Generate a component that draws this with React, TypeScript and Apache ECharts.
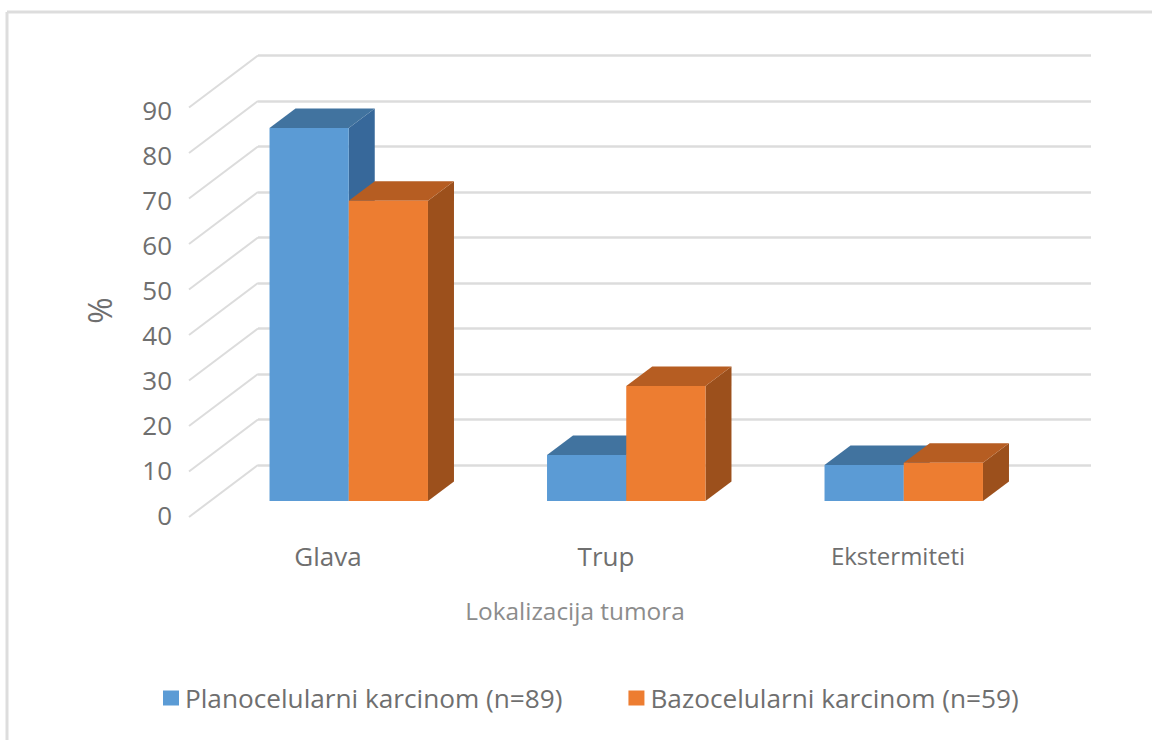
import React, { useEffect, useRef } from "react";
import * as echarts from "echarts";

const categories = ["Glava", "Trup", "Ekstermiteti"];
const planocelularni = [82, 10.1, 7.9];
const bazocelularni = [66, 25.3, 8.4];
const seriesNames = ["Planocelularni karcinom (n=89)", "Bazocelularni karcinom (n=59)"];
const wallTicks = [0, 10, 20, 30, 40, 50, 60, 70, 80, 90];

const TEXT = "#6f6f6f";
const FONT = "'Open Sans'";

function shade3d(front: string, top: string, side: string, sign: number) {
  return (params: any, api: any) => {
    const base = api.coord([api.value(0), 0]);
    const tip = api.coord([api.value(0), api.value(1)]);
    const w = api.size([1, 0])[0] * 0.2855;
    const x0 = sign < 0 ? base[0] - w : base[0];
    const x1 = x0 + w;
    const dx = 26;
    const dy = 19.5;
    const poly = (points: number[][], fill: string) => ({
      type: "polygon",
      shape: { points },
      style: { fill },
    });
    return {
      type: "group",
      children: [
        poly([[x1, tip[1]], [x1 + dx, tip[1] - dy], [x1 + dx, base[1] - dy], [x1, base[1]]], side),
        poly([[x0, tip[1]], [x0 + dx, tip[1] - dy], [x1 + dx, tip[1] - dy], [x1, tip[1]]], top),
        poly([[x0, tip[1]], [x1, tip[1]], [x1, base[1]], [x0, base[1]]], front),
      ],
    };
  };
}

export default function App() {
  const ref = useRef<HTMLDivElement>(null);
  useEffect(() => {
    document.body.style.margin = "0";
    const chart = echarts.init(ref.current!, undefined, { renderer: "svg" });
    const hiddenAxis = {
      axisLine: { show: false },
      axisTick: { show: false },
      axisLabel: { show: false },
      splitLine: { show: false },
    };
    chart.setOption({
      animation: false,
      backgroundColor: "#ffffff",
      textStyle: { fontFamily: FONT },
      graphic: [
        { type: "line", shape: { x1: 7, y1: 12, x2: 1152, y2: 12 }, style: { stroke: "#dddddd", lineWidth: 3 } },
        { type: "line", shape: { x1: 7, y1: 12, x2: 7, y2: 740 }, style: { stroke: "#dddddd", lineWidth: 3 } },
      ],
      legend: {
        left: 158,
        top: 680,
        icon: "rect",
        itemWidth: 16,
        itemHeight: 15,
        itemGap: 66,
        data: seriesNames,
        textStyle: { fontSize: 26.2, color: TEXT, fontFamily: FONT, padding: [0, 0, 0, 1] },
      },
      grid: [
        { left: 258, width: 833, top: 55.5, height: 409.5 },
        { left: 172, width: 10, top: 110, height: 405 },
        { left: 210, width: 832.5, top: 91.5, height: 409.5 },
        { left: 189, width: 834, top: 100, height: 430 },
      ],
      xAxis: [
        { gridIndex: 0, type: "value", min: 0, max: 1, ...hiddenAxis },
        { gridIndex: 1, type: "value", min: 0, max: 1, ...hiddenAxis },
        { gridIndex: 2, type: "category", data: categories, ...hiddenAxis },
        {
          gridIndex: 3,
          type: "category",
          data: categories,
          axisLine: { show: false },
          axisTick: { show: false },
          splitLine: { show: false },
          axisLabel: {
            margin: 13,
            color: TEXT,
            fontSize: 26,
            fontFamily: FONT,
            formatter: (v: string) => (v === "Ekstermiteti" ? `{e|${v}}` : v),
            rich: { e: { fontSize: 24, color: TEXT, fontFamily: FONT, padding: [0, 0, 0, 28] } },
          },
          name: "Lokalizacija tumora",
          nameLocation: "middle",
          nameGap: 68,
          nameTextStyle: { fontSize: 24.4, color: "#8c8c8c", fontFamily: FONT, padding: [0, 62, 0, 0] },
        },
      ],
      yAxis: [
        {
          gridIndex: 0,
          type: "value",
          min: 0,
          max: 90,
          interval: 10,
          axisLine: { show: false },
          axisTick: { show: false },
          axisLabel: { show: false },
          splitLine: { show: true, lineStyle: { color: "#dcdcdc", width: 2.5 } },
        },
        {
          gridIndex: 1,
          type: "value",
          min: 0,
          max: 90,
          interval: 10,
          axisLine: { show: false },
          axisTick: { show: false },
          splitLine: { show: false },
          axisLabel: { margin: 0, color: TEXT, fontSize: 26, fontFamily: FONT },
          name: "%",
          nameLocation: "middle",
          nameRotate: 90,
          nameGap: 57,
          nameTextStyle: { fontSize: 32, color: TEXT, fontFamily: FONT, padding: [0, 0, 0, 4] },
        },
        { gridIndex: 2, type: "value", min: 0, max: 90, ...hiddenAxis },
        { gridIndex: 3, type: "value", min: 0, max: 90, ...hiddenAxis },
      ],
      series: [
        {
          type: "custom",
          xAxisIndex: 0,
          yAxisIndex: 0,
          silent: true,
          clip: false,
          z: 1,
          data: wallTicks.map((v) => [0, v]),
          encode: { x: 0, y: 1 },
          renderItem: (p: any, api: any) => {
            const c = api.coord([api.value(0), api.value(1)]);
            return {
              type: "line",
              shape: { x1: c[0], y1: c[1], x2: c[0] - 69, y2: c[1] + 52 },
              style: { stroke: "#dcdcdc", lineWidth: 2 },
            };
          },
        },
        {
          name: seriesNames[0],
          type: "custom",
          xAxisIndex: 2,
          yAxisIndex: 2,
          clip: false,
          z: 3,
          itemStyle: { color: "#5b9bd5" },
          data: planocelularni.map((v, i) => [i, v]),
          encode: { x: 0, y: 1 },
          renderItem: shade3d("#5b9bd5", "#41739f", "#37689a", -1),
        },
        {
          name: seriesNames[1],
          type: "custom",
          xAxisIndex: 2,
          yAxisIndex: 2,
          clip: false,
          z: 4,
          itemStyle: { color: "#ed7d31" },
          data: bazocelularni.map((v, i) => [i, v]),
          encode: { x: 0, y: 1 },
          renderItem: shade3d("#ed7d31", "#b65d22", "#9c501c", 1),
        },
      ],
    });
    return () => chart.dispose();
  }, []);
  return <div ref={ref} style={{ position: "absolute", left: 0, top: 0, width: 1152, height: 740 }} />;
}
